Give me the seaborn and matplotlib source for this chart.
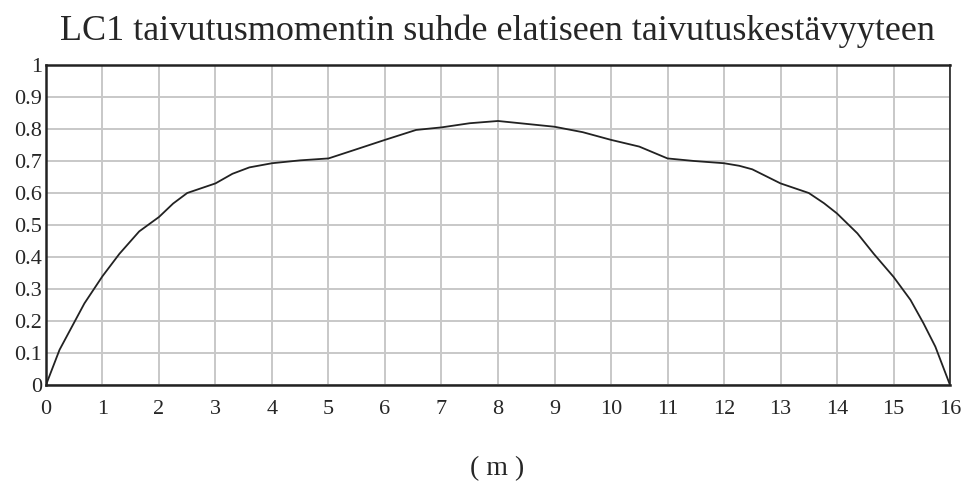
import matplotlib
matplotlib.use("Agg")
import matplotlib.pyplot as plt
import seaborn as sns
import pandas as pd

# Ratio of LC1 bending moment to elastic bending resistance along the span
position_m = [0.0, 0.24, 0.68, 1.0, 1.3, 1.65, 2.0, 2.25, 2.5, 3.0, 3.3, 3.6, 4.0,
              4.5, 5.0, 5.45, 6.0, 6.55, 7.0, 7.5, 8.0, 8.5, 9.0, 9.5, 10.0,
              10.5, 11.0, 11.47, 12.0, 12.27, 12.5, 13.0, 13.5, 13.77, 14.0,
              14.36, 14.65, 15.0, 15.3, 15.53, 15.74, 16.0]
moment_ratio = [0.0, 0.11, 0.255, 0.34, 0.41, 0.48, 0.525, 0.567, 0.60, 0.63, 0.66,
                0.68, 0.693, 0.702, 0.708, 0.734, 0.766, 0.797, 0.805, 0.818, 0.825,
                0.816, 0.807, 0.79, 0.766, 0.745, 0.708, 0.70, 0.693, 0.685, 0.674,
                0.63, 0.60, 0.568, 0.536, 0.474, 0.41, 0.338, 0.266, 0.193, 0.12, 0.0]
x_ticks = list(range(0, 17))
y_ticks = [0, 0.1, 0.2, 0.3, 0.4, 0.5, 0.6, 0.7, 0.8, 0.9, 1]
y_tick_labels = ["0", "0.1", "0.2", "0.3", "0.4", "0.5", "0.6", "0.7", "0.8", "0.9", "1"]

df = pd.DataFrame({"m": position_m, "ratio": moment_ratio})

sns.set_style("white")
plt.rcParams["font.family"] = ["Liberation Serif", "DejaVu Serif"]

fig = plt.figure(figsize=(9.7, 4.86), dpi=100)
ax = fig.add_axes([0.0474, 0.2078, 0.932, 0.6585])

sns.lineplot(data=df, x="m", y="ratio", ax=ax, color="#222222", linewidth=1.3)

ax.set_xlim(0, 16)
ax.set_ylim(0, 1)
ax.set_xticks(x_ticks)
ax.set_xticklabels([str(t) for t in x_ticks], fontsize=16)
ax.set_yticks(y_ticks)
ax.set_yticklabels(y_tick_labels, fontsize=16)
ax.tick_params(axis="x", length=0, pad=11)
ax.tick_params(axis="y", length=0, pad=3)
ax.grid(True, color="#c8c8c8", linewidth=1.4)
for side, sp in ax.spines.items():
    sp.set_color("#222222")
    sp.set_linewidth(1.8 if side != "right" else 1.2)

ax.set_xlabel("( m )", fontsize=20, va="center")
ax.xaxis.set_label_coords(0.499, -0.26)
ax.set_ylabel("")
fig.text(0.513, 0.935, "LC1 taivutusmomentin suhde elatiseen taivutuskestävyyteen",
         ha="center", va="center", fontsize=26)

fig.savefig("out.png", dpi=100)
